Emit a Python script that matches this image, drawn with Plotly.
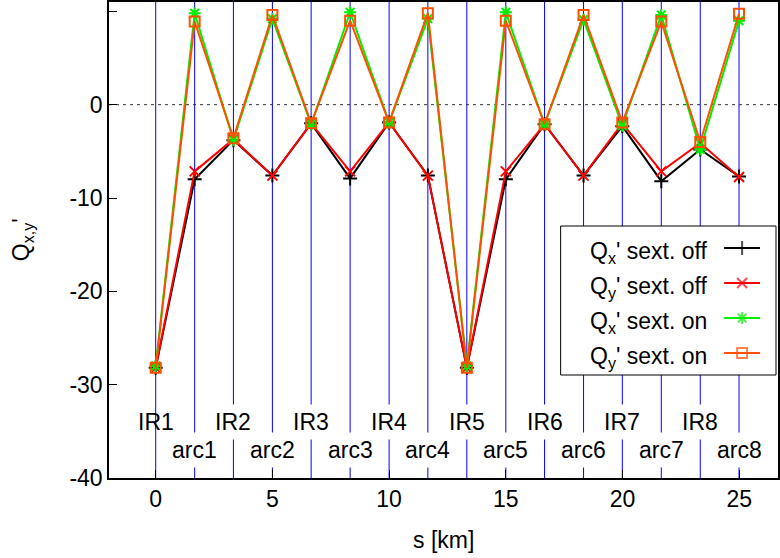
import plotly.graph_objects as go

# Longitudinal positions of the IRs and arc centres [km]
s_km = [0.0, 1.67, 3.33, 5.0, 6.66, 8.33, 10.0, 11.66, 13.33,
        15.0, 16.66, 18.33, 19.99, 21.66, 23.33, 24.99]

# Chromaticity contributions
qx_off = [-28.2, -8.0, -3.8, -7.6, -2.0, -7.9, -1.9, -7.6, -28.2,
          -8.0, -2.1, -7.6, -2.3, -8.2, -4.8, -7.7]
qy_off = [-28.2, -7.15, -3.7, -7.6, -2.0, -7.15, -1.9, -7.6, -28.2,
          -7.15, -2.1, -7.6, -2.0, -7.15, -4.1, -7.75]
qx_on = [-28.0, 9.8, -3.8, 9.2, -2.1, 9.9, -1.9, 9.2, -28.0,
         9.9, -2.1, 9.1, -2.25, 9.6, -4.8, 9.0]
qy_on = [-28.2, 8.9, -3.6, 9.6, -2.0, 9.0, -1.9, 9.8, -28.2,
         9.0, -2.1, 9.6, -1.9, 8.9, -4.0, 9.75]

ir_labels = ["IR1", "IR2", "IR3", "IR4", "IR5", "IR6", "IR7", "IR8"]
ir_pos = [0.0, 3.33, 6.66, 10.0, 13.33, 16.66, 19.99, 23.33]
arc_labels = ["arc1", "arc2", "arc3", "arc4", "arc5", "arc6", "arc7", "arc8"]
arc_pos = [1.67, 5.0, 8.33, 11.66, 15.0, 18.33, 21.66, 24.99]

x_ticks = [0, 5, 10, 15, 20, 25]
x_ticktext = ["0", "5", "10", "15", "20", "25"]
y_ticks = [-40, -30, -20, -10, 0, 10]
y_ticktext = ["-40", "-30", "-20", "-10", "0", "10"]

series_names = ["Q<sub>x</sub>' sext. off", "Q<sub>y</sub>' sext. off",
                "Q<sub>x</sub>' sext. on", "Q<sub>y</sub>' sext. on"]
series_values = [qx_off, qy_off, qx_on, qy_on]
series_colors = ["#000000", "#ff0000", "#00ee00", "#ff5000"]
series_symbols = ["cross-thin-open", "x-thin-open", "asterisk-open", "square-open"]
series_sizes = [10, 10, 10, 10]

FONT = "Liberation Sans, Arial, sans-serif"
FS = 23

W, H = 780, 558
ML, MR, MT, MB = 109, 0, 2, 80
PW, PH = W - ML - MR, H - MT - MB


def px_x(p):
    return (p - ML) / PW


def px_y(p):
    return 1 - (p - MT) / PH


fig = go.Figure()

for name, vals, col, sym, sz in zip(series_names, series_values,
                                    series_colors, series_symbols, series_sizes):
    fig.add_trace(go.Scatter(
        x=s_km, y=vals, mode="lines+markers", name=name, showlegend=False,
        line=dict(color=col, width=2),
        marker=dict(symbol=sym, size=sz, color=col, line=dict(color=col, width=2)),
    ))

shapes = []
# IR / arc boundaries
for xv in s_km:
    shapes.append(dict(type="line", xref="x", yref="paper", x0=xv, x1=xv, y0=0, y1=1,
                       line=dict(color="#0000ff", width=1), layer="below"))
# zero line
shapes.append(dict(type="line", xref="paper", yref="y", x0=0, x1=1, y0=0, y1=0,
                   line=dict(color="#333333", width=1, dash="3px,4px"), layer="below"))

annotations = []
for lab, xv in zip(ir_labels, ir_pos):
    annotations.append(dict(x=xv, y=-34.0, xref="x", yref="y", text=lab, showarrow=False,
                            font=dict(family=FONT, size=FS, color="black"),
                            bgcolor="rgba(0,0,0,0)" if lab == "IR1" else "white",
                            borderpad=4))
for lab, xv in zip(arc_labels, arc_pos):
    annotations.append(dict(x=xv, y=-37.0, xref="x", yref="y", text=lab, showarrow=False,
                            font=dict(family=FONT, size=FS, color="black"),
                            bgcolor="white", borderpad=4))

# axis titles
annotations.append(dict(x=px_x(22), y=px_y(240), xref="paper", yref="paper",
                        xanchor="center", yanchor="middle",
                        text="Q<sub>x,y</sub>'", textangle=-90, showarrow=False,
                        font=dict(family=FONT, size=FS, color="black")))
annotations.append(dict(x=px_x(445), y=px_y(540), xref="paper", yref="paper",
                        xanchor="center", yanchor="middle",
                        text="s [km]", showarrow=False,
                        font=dict(family=FONT, size=FS, color="black")))

# key box (drawn under the traces so its samples stay visible)
shapes.append(dict(type="rect", xref="paper", yref="paper",
                   x0=px_x(562), x1=px_x(778), y0=px_y(375), y1=px_y(226),
                   fillcolor="white", line=dict(color="black", width=1), layer="below"))

row_y = [248, 283, 318, 353]
for name, col, sym, sz, ry in zip(series_names, series_colors, series_symbols,
                                  series_sizes, row_y):
    annotations.append(dict(x=px_x(711), y=px_y(ry + 4), xref="paper", yref="paper",
                            xanchor="right", yanchor="middle", text=name, showarrow=False,
                            font=dict(family=FONT, size=FS, color="black")))
    fig.add_trace(go.Scatter(
        x=[px_x(726), px_x(744), px_x(762)], y=[px_y(ry)] * 3,
        xaxis="x2", yaxis="y2", mode="lines+markers", showlegend=False,
        line=dict(color=col, width=2),
        marker=dict(symbol=sym, size=[0, sz, 0], color=col, line=dict(color=col, width=2)),
        hoverinfo="skip",
    ))

fig.update_layout(
    width=W, height=H,
    margin=dict(l=ML, r=MR, t=MT, b=MB),
    plot_bgcolor="white", paper_bgcolor="white",
    font=dict(family=FONT, size=FS, color="black"),
    shapes=shapes, annotations=annotations,
    xaxis=dict(range=[-2, 26.66], tickvals=x_ticks, ticktext=x_ticktext,
               ticks="inside", ticklen=8, tickcolor="black", showgrid=False,
               zeroline=False, showline=True, linecolor="black", linewidth=1.5,
               mirror=True, tickfont=dict(family=FONT, size=FS, color="black")),
    yaxis=dict(range=[-40, 11], tickvals=y_ticks, ticktext=y_ticktext,
               ticks="inside", ticklen=8, tickcolor="black", showgrid=False,
               zeroline=False, showline=True, linecolor="black", linewidth=1.5,
               mirror=True, tickfont=dict(family=FONT, size=FS, color="black")),
    xaxis2=dict(range=[0, 1], overlaying="x", visible=False),
    yaxis2=dict(range=[0, 1], overlaying="y", visible=False),
)

fig.write_html("out.html")
